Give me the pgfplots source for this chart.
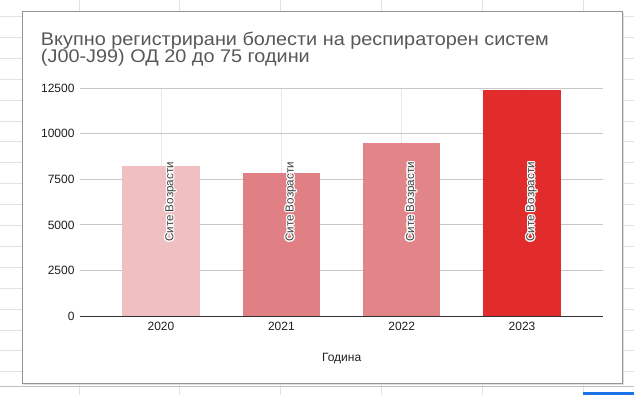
\documentclass[border=0pt]{standalone}
\usepackage{fontspec}
\setmainfont{Liberation Sans}
\newfontfamily\titlefont[FakeStretch=1.085]{Liberation Sans}
\usepackage{pgfplots}
\pgfplotsset{compat=1.18}
\usepackage{contour}
\contourlength{1.1bp}
\definecolor{cA}{RGB}{239,191,194}
\definecolor{cB}{RGB}{224,128,133}
\definecolor{cC}{RGB}{226,133,137}
\definecolor{cD}{RGB}{226,43,43}
\definecolor{sheet}{RGB}{226,226,226}
\definecolor{titlec}{RGB}{88,88,88}
\definecolor{gblue}{RGB}{26,115,232}
\begin{document}
\begin{tikzpicture}
\begin{scope}[x=1bp,y=1bp]
\useasboundingbox (0,0) rectangle (634,395);
\fill[white] (0,0) rectangle (634,395);
\foreach \x in {79,179.8,280.6,381.4,482.2,583} \draw[sheet,line width=0.8bp] (\x,0) -- (\x,395);
\foreach \k in {0,...,17} \draw[sheet,line width=0.8bp] (0,{395-(16.4+20.9*\k)}) -- (634,{395-(16.4+20.9*\k)});
\draw[black!25,line width=1bp] (0,9) -- (634,9);
\fill[gblue] (583,0) rectangle (634,3.5);
\fill[black!12] (23,10.5) rectangle (623.5,382);
\draw[fill=white, draw=black!42, line width=1bp] (22,12) rectangle (622,383);
\node[anchor=base west, inner sep=0, text=titlec, font=\titlefont\fontsize{18.3bp}{20bp}\selectfont] at (40.8,349.2) {Вкупно регистрирани болести на респираторен систем};
\node[anchor=base west, inner sep=0, text=titlec, font=\titlefont\fontsize{18.3bp}{20bp}\selectfont] at (40.8,332.6) {(J00-J99) ОД 20 до 75 години};
\end{scope}
\begin{axis}[
  at={(80bp,79bp)}, anchor=south west,
  scale only axis, width=523.3bp, height=227.7bp,
  xmin=-0.673, xmax=3.675, ymin=0, ymax=12500,
  xtick={0,1,2,3}, xticklabels={2020,2021,2022,2023},
  ytick={0,2500,5000,7500,10000,12500},
  scaled y ticks=false,
  /pgf/number format/1000 sep={},
  /pgf/number format/assume math mode=true,
  tick label style={font=\fontsize{12bp}{14bp}\selectfont, text=black!88},
  major tick length=0pt,
  axis x line*=bottom, axis y line*=left,
  y axis line style={draw=none},
  x axis line style={-, draw=black!80, line width=1bp},
  ymajorgrids, xmajorgrids,
  y grid style={black!22, line width=0.9bp},
  x grid style={black!9, line width=0.9bp},
  yticklabel style={xshift=-2bp},
  xticklabel style={yshift=-3bp},
  xlabel={Година},
  xlabel style={at={(axis description cs:0.5,0)}, anchor=center, yshift=-43bp, font=\fontsize{12bp}{14bp}\selectfont, text=black!88},
  clip=false,
]
\addplot[ybar, bar width=0.642, draw=none, fill=cA] coordinates {(0,8230)};
\addplot[ybar, bar width=0.642, draw=none, fill=cB] coordinates {(1,7830)};
\addplot[ybar, bar width=0.642, draw=none, fill=cC] coordinates {(2,9480)};
\addplot[ybar, bar width=0.642, draw=none, fill=cD] coordinates {(3,12390)};
\addplot[draw=none, no markers,
  nodes near coords={\contour{white}{Сите Возрасти}},
  every node near coord/.append style={xshift=10bp, rotate=90, anchor=center, inner sep=0pt, font=\fontsize{11.6bp}{14bp}\selectfont, text=black!75}]
  coordinates {(0,6260) (1,6260) (2,6260) (3,6260)};
\end{axis}
\end{tikzpicture}
\end{document}
